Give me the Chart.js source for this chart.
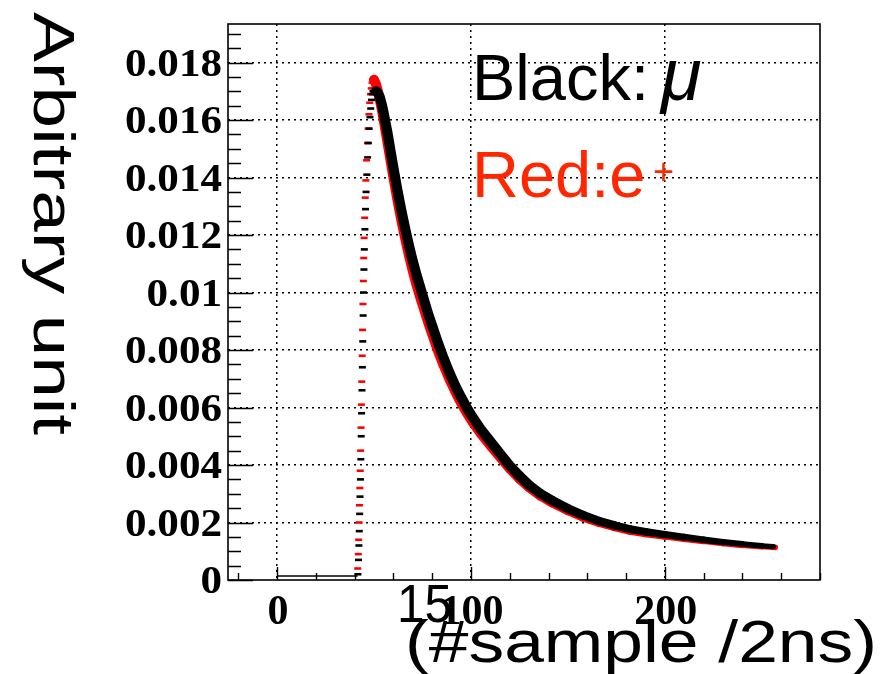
<!DOCTYPE html>
<html>
<head>
<meta charset="utf-8">
<script src="https://cdn.jsdelivr.net/npm/chart.js@4.4.0/dist/chart.umd.min.js"></script>
<style>
  html, body { margin: 0; padding: 0; background: #fff; }
  canvas { display: block; }
</style>
</head>
<body>
<canvas id="grafico" width="886" height="674"></canvas>
<script>
// axis ticks and labels
const xMajor = [0, 100, 200]
const xLabels = ['0', '100', '200']
const yMajor = [0, 0.002, 0.004, 0.006, 0.008, 0.01, 0.012, 0.014, 0.016, 0.018]
const yLabels = ['0', '0.002', '0.004', '0.006', '0.008', '0.01', '0.012', '0.014', '0.016', '0.018']

// flat pedestal before the pulse
const baseX = [0, 10, 20, 30, 40, 41.5]
const baseMu = [0.00014, 0.00014, 0.00014, 0.00014, 0.00014, 0.00014]

// leading edge (#sample, amplitude)
const riseXMu = [41.7, 42.0, 42.2, 42.4, 42.6, 42.8, 43.0, 43.2, 43.4, 43.6, 43.8, 44.0, 44.2, 44.4, 44.6,
  44.8, 45.0, 45.3, 45.6, 45.9, 46.3, 46.7, 47.1, 47.5, 47.9, 48.3, 48.7, 49.1, 49.5, 50.0]
const riseMu = [0.0002, 0.0007, 0.0012, 0.0017, 0.0023, 0.0029, 0.0035, 0.0042, 0.0050, 0.0058, 0.0066,
  0.0074, 0.0083, 0.0092, 0.0100, 0.0108, 0.0115, 0.0122, 0.0129, 0.0135, 0.0141, 0.0147, 0.0152, 0.0157,
  0.0161, 0.0164, 0.0167, 0.0169, 0.0170, 0.0170]
const riseXE = [41.6, 41.9, 42.1, 42.3, 42.5, 42.7, 42.9, 43.1, 43.3, 43.5, 43.7, 43.9, 44.1, 44.3, 44.5,
  44.7, 44.9, 45.2, 45.5, 45.8, 46.2, 46.6, 47.0, 47.4, 47.8, 48.2, 48.6, 49.0, 49.4]
const riseE = [0.0004, 0.0009, 0.0014, 0.0020, 0.0026, 0.0032, 0.0038, 0.0045, 0.0053, 0.0061, 0.0069,
  0.0078, 0.0087, 0.0096, 0.0104, 0.0112, 0.0119, 0.0126, 0.0133, 0.0139, 0.0146, 0.0152, 0.0157, 0.0162,
  0.0166, 0.0169, 0.0171, 0.0173, 0.0174]

// falling tail
const decayXMu = [51, 52, 53, 54, 55, 56, 57, 58, 59, 60, 62, 64, 66, 68, 70, 72, 74, 76, 78, 80, 83, 86, 89,
  92, 95, 98, 101, 105, 110, 115, 120, 125, 130, 136, 142, 150, 158, 166, 174, 182, 190, 200, 210, 220,
  230, 240, 250, 256]
const decayMu = [0.01700, 0.01695, 0.01680, 0.01655, 0.01625, 0.01590, 0.01555, 0.01515, 0.01475, 0.01435,
  0.01360, 0.01290, 0.01225, 0.01165, 0.01110, 0.01060, 0.01015, 0.00970, 0.00925, 0.00885, 0.00825,
  0.00770, 0.00720, 0.00675, 0.00635, 0.00598, 0.00565, 0.00525, 0.00482, 0.00440, 0.00398, 0.00362,
  0.00330, 0.00300, 0.00276, 0.00248, 0.00225, 0.00205, 0.00190, 0.00177, 0.00168, 0.00158, 0.00149,
  0.00140, 0.00132, 0.00125, 0.00119, 0.00116]
const decayXE = [50, 51, 52, 53, 54, 55, 56, 57, 58, 59, 60, 62, 64, 66, 68, 70, 72, 74, 76, 78, 80, 83, 86,
  89, 92, 95, 98, 101, 105, 110, 115, 120, 125, 130, 136, 142, 150, 158, 166, 174, 182, 190, 200, 210,
  220, 230, 240, 250, 257]
const decayE = [0.01740, 0.01725, 0.01700, 0.01670, 0.01638, 0.01600, 0.01560, 0.01520, 0.01480, 0.01440,
  0.01400, 0.01325, 0.01255, 0.01190, 0.01130, 0.01075, 0.01025, 0.00980, 0.00937, 0.00895, 0.00855,
  0.00797, 0.00745, 0.00697, 0.00654, 0.00615, 0.00580, 0.00548, 0.00510, 0.00468, 0.00428, 0.00388,
  0.00353, 0.00322, 0.00292, 0.00268, 0.00241, 0.00218, 0.00199, 0.00184, 0.00171, 0.00162, 0.00153,
  0.00144, 0.00136, 0.00128, 0.00121, 0.00116, 0.00113]

const pts = (xs, ys) => xs.map((x, i) => ({ x: x, y: ys[i] }))
const near = (a, b) => Math.abs(a - b) < 1e-9
const isMajor = (list, v) => list.some(m => near(m, v))

// band gets thinner along the tail
const bandWidth = (full, thin) => ctx => {
  const x = ctx.p0.parsed.x
  if (x <= 120) return full
  return Math.max(thin, full - (x - 120) * (full - thin) / 138)
}

function stretched(ctx, text, x, y, sx) {
  ctx.save()
  ctx.translate(x, y)
  ctx.scale(sx, 1)
  ctx.fillText(text, 0, 0)
  ctx.restore()
}

// text stretched to a given width
function fitText(ctx, text, x, y, width) {
  const w = ctx.measureText(text).width
  stretched(ctx, text, x, y, width / w)
}

const frameAndText = {
  id: 'frameAndText',
  afterDraw(chart) {
    const { ctx, chartArea: a, scales: { x, y } } = chart
    ctx.save()
    ctx.strokeStyle = '#000'
    ctx.lineWidth = 1.6
    ctx.strokeRect(a.left, a.top, a.right - a.left, a.bottom - a.top)

    // inward ticks
    ctx.beginPath()
    y.ticks.forEach(t => {
      const py = Math.round(y.getPixelForValue(t.value)) + 0.5
      const len = isMajor(yMajor, t.value) ? 25 : 13
      ctx.moveTo(a.left, py)
      ctx.lineTo(a.left + len, py)
    })
    x.ticks.forEach(t => {
      const px = Math.round(x.getPixelForValue(t.value)) + 0.5
      const len = isMajor(xMajor, t.value) ? 13 : 7
      ctx.moveTo(px, a.bottom)
      ctx.lineTo(px, a.bottom - len)
    })
    ctx.lineWidth = 1.4
    ctx.stroke()

    // tick labels
    ctx.fillStyle = '#000'
    ctx.font = 'bold 39px "Liberation Serif"'
    const sy = 97 / ctx.measureText('0.018').width
    ctx.textAlign = 'right'
    ctx.textBaseline = 'alphabetic'
    yMajor.forEach((v, i) => stretched(ctx, yLabels[i], a.left - 6, y.getPixelForValue(v) + 13, sy))
    ctx.font = 'bold 42px "Liberation Serif"'
    ctx.textAlign = 'center'
    xMajor.forEach((v, i) => stretched(ctx, xLabels[i], x.getPixelForValue(v) + 1, a.bottom + 44, 1))

    // axis titles
    ctx.textAlign = 'left'
    ctx.font = '54px "Liberation Sans"'
    fitText(ctx, '15', 397, 622, 55)
    ctx.font = '60px "Liberation Sans"'
    fitText(ctx, '(#sample /2ns)', 405, 662, 472)

    ctx.save()
    ctx.translate(34, 12)
    ctx.rotate(Math.PI / 2)
    ctx.font = '57px "Liberation Sans"'
    fitText(ctx, 'Arbitrary unit', 0, 0, 423)
    ctx.restore()

    // key
    ctx.font = '65px "Liberation Sans"'
    ctx.fillStyle = '#000'
    ctx.fillText('Black:', 472, 100)
    ctx.font = 'italic 74px "Liberation Sans"'
    ctx.fillText('μ', 661, 100)
    ctx.fillStyle = '#ff2600'
    ctx.font = '65px "Liberation Sans"'
    ctx.fillText('Red:e', 472, 197)
    ctx.font = '36px "Liberation Sans"'
    ctx.fillText('+', 653, 184)
    ctx.restore()
  }
}

const grafico = document.getElementById('grafico').getContext('2d')

new Chart(grafico, {
  type: 'scatter',
  data: {
    datasets: [
      {
        label: 'pedestal',
        data: pts(baseX, baseMu),
        showLine: true,
        borderColor: '#000',
        borderWidth: 1.6,
        pointRadius: 0,
        order: 0
      },
      {
        label: 'mu tail',
        data: pts(decayXMu, decayMu),
        showLine: true,
        borderColor: '#000',
        borderWidth: 10,
        borderCapStyle: 'round',
        borderJoinStyle: 'round',
        segment: { borderWidth: bandWidth(10, 5) },
        pointRadius: 0,
        order: 1
      },
      {
        label: 'mu edge',
        data: pts(riseXMu, riseMu),
        pointStyle: 'line',
        pointRadius: 3.5,
        pointBorderWidth: 2.6,
        pointBorderColor: '#000',
        order: 1
      },
      {
        label: 'e tail',
        data: pts(decayXE, decayE),
        showLine: true,
        borderColor: '#ff0000',
        borderWidth: 10,
        borderCapStyle: 'round',
        borderJoinStyle: 'round',
        segment: { borderWidth: bandWidth(10, 5) },
        pointRadius: 0,
        order: 2
      },
      {
        label: 'e edge',
        data: pts(riseXE, riseE),
        pointStyle: 'line',
        pointRadius: 3.5,
        pointBorderWidth: 2.6,
        pointBorderColor: '#ff0000',
        order: 2
      }
    ]
  },
  options: {
    responsive: false,
    animation: false,
    events: [],
    layout: { padding: { left: 0, top: 24, right: 66, bottom: 0 } },
    plugins: { legend: { display: false }, tooltip: { enabled: false } },
    scales: {
      x: {
        type: 'linear',
        min: -25.3,
        max: 280,
        afterFit: s => { s.height = 94 },
        afterBuildTicks: s => {
          const t = []
          for (let v = -20; v <= 280; v += 20) t.push({ value: v })
          s.ticks = t
        },
        ticks: { display: false },
        border: { display: false, dash: [2, 4] },
        grid: {
          drawTicks: false,
          lineWidth: 1.5,
          color: c => isMajor(xMajor, c.tick.value) ? '#000' : 'rgba(0,0,0,0)'
        }
      },
      y: {
        type: 'linear',
        min: 0,
        max: 0.01934,
        afterFit: s => { s.width = 228 },
        afterBuildTicks: s => {
          const t = []
          for (let k = 0; k <= 38; k++) t.push({ value: k * 0.0005 })
          s.ticks = t
        },
        ticks: { display: false },
        border: { display: false, dash: [2, 4] },
        grid: {
          drawTicks: false,
          lineWidth: 1.5,
          color: c => isMajor(yMajor, c.tick.value) && c.tick.value > 0 ? '#000' : 'rgba(0,0,0,0)'
        }
      }
    }
  },
  plugins: [frameAndText]
})
</script>
</body>
</html>
